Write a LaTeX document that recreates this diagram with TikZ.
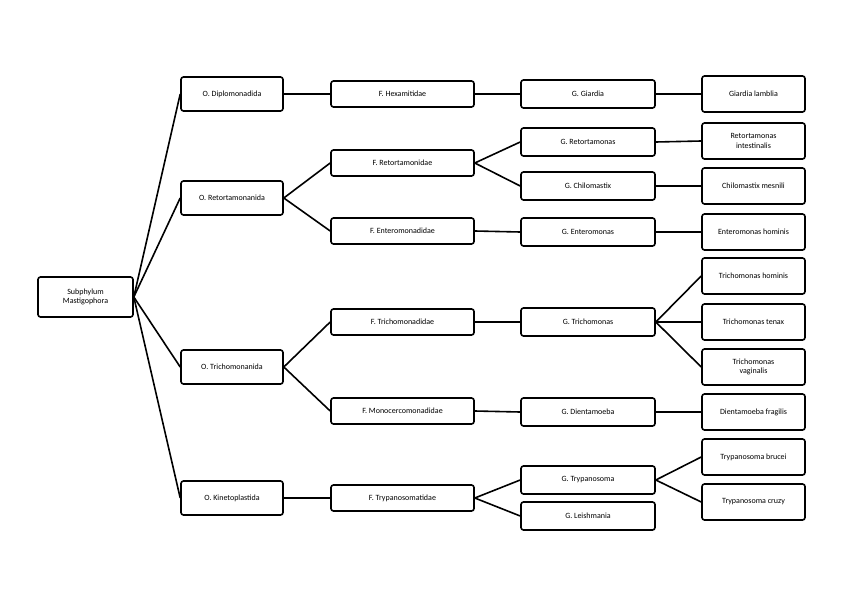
\documentclass[tikz,border=0pt]{standalone}
\usepackage{fontspec}
\setmainfont{Carlito}
\begin{document}
\begin{tikzpicture}[x=1pt,y=-1pt,
 bx/.style={draw,line width=1.6pt,rounded corners=2.5pt,fill=white,align=center,font=\fontsize{8}{9.5}\selectfont,inner sep=0pt},
 ord/.style={bx,minimum width=102pt,minimum height=34pt},
 fam/.style={bx,minimum width=143pt,minimum height=26pt},
 gen/.style={bx,minimum width=134pt,minimum height=28pt},
 sp/.style={bx,minimum width=103pt,minimum height=36pt},
 ln/.style={line width=1.6pt}]
\useasboundingbox (0,0) rectangle (848,599);
\node[bx,minimum width=95pt,minimum height=40pt] (root) at (85.5,297) {Subphylum\\Mastigophora};
\node[ord] (o1) at (232,94) {O. Diplomonadida};
\node[ord] (o2) at (232,198) {O. Retortamonanida};
\node[ord] (o3) at (232,367) {O. Trichomonanida};
\node[ord] (o4) at (232,498) {O. Kinetoplastida};
\node[fam] (f1) at (402.5,94) {F. Hexamitidae};
\node[fam] (f2) at (402.5,163) {F. Retortamonidae};
\node[fam] (f3) at (402.5,231) {F. Enteromonadidae};
\node[fam] (f4) at (402.5,322) {F. Trichomonadidae};
\node[fam] (f5) at (402.5,411) {F. Monocercomonadidae};
\node[fam] (f6) at (402.5,498) {F. Trypanosomatidae};
\node[gen] (g1) at (588,94) {G. Giardia};
\node[gen] (g2) at (588,142) {G. Retortamonas};
\node[gen] (g3) at (588,186) {G. Chilomastix};
\node[gen] (g4) at (588,232) {G. Enteromonas};
\node[gen] (g5) at (588,322) {G. Trichomonas};
\node[gen] (g6) at (588,412) {G. Dientamoeba};
\node[gen] (g7) at (588,480) {G. Trypanosoma};
\node[gen] (g8) at (588,516) {G. Leishmania};
\node[sp] (s1) at (753.5,94) {Giardia lamblia};
\node[sp] (s2) at (753.5,141) {Retortamonas\\intestinalis};
\node[sp] (s3) at (753.5,186) {Chilomastix mesnili};
\node[sp] (s4) at (753.5,232) {Enteromonas hominis};
\node[sp] (s5) at (753.5,276) {Trichomonas hominis};
\node[sp] (s6) at (753.5,322) {Trichomonas tenax};
\node[sp] (s7) at (753.5,367) {Trichomonas\\vaginalis};
\node[sp] (s8) at (753.5,412) {Dientamoeba fragilis};
\node[sp] (s9) at (753.5,457) {Trypanosoma brucei};
\node[sp] (s10) at (753.5,502) {Trypanosoma cruzy};
\foreach \o in {o1,o2,o3,o4} \draw[ln] (root.east) -- (\o.west);
\draw[ln] (o1.east) -- (f1.west);
\draw[ln] (o2.east) -- (f2.west); \draw[ln] (o2.east) -- (f3.west);
\draw[ln] (o3.east) -- (f4.west); \draw[ln] (o3.east) -- (f5.west);
\draw[ln] (o4.east) -- (f6.west);
\draw[ln] (f1.east) -- (g1.west);
\draw[ln] (f2.east) -- (g2.west); \draw[ln] (f2.east) -- (g3.west);
\draw[ln] (f3.east) -- (g4.west);
\draw[ln] (f4.east) -- (g5.west);
\draw[ln] (f5.east) -- (g6.west);
\draw[ln] (f6.east) -- (g7.west); \draw[ln] (f6.east) -- (g8.west);
\draw[ln] (g1.east) -- (s1.west);
\draw[ln] (g2.east) -- (s2.west);
\draw[ln] (g3.east) -- (s3.west);
\draw[ln] (g4.east) -- (s4.west);
\draw[ln] (g5.east) -- (s5.west); \draw[ln] (g5.east) -- (s6.west); \draw[ln] (g5.east) -- (s7.west);
\draw[ln] (g6.east) -- (s8.west);
\draw[ln] (g7.east) -- (s9.west); \draw[ln] (g7.east) -- (s10.west);
\end{tikzpicture}
\end{document}
